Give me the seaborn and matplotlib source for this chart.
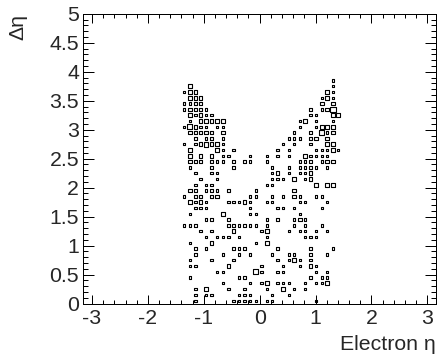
import numpy as np
import pandas as pd
import matplotlib
matplotlib.use("Agg")
import matplotlib.pyplot as plt
import seaborn as sns
from matplotlib.ticker import MultipleLocator, FuncFormatter

# ---- data: 2D histogram (electron eta vs delta eta), bin centres + contents ----
eta_centers = [-1.35, -1.25, -1.15, -1.06, -0.96, -0.86, -0.76, -0.66, -0.56, -0.47,
               -0.37, -0.27, -0.17, -0.07, 0.03, 0.13, 0.22, 0.32, 0.42, 0.52,
               0.62, 0.72, 0.81, 0.91, 1.01, 1.11, 1.21, 1.31, 1.40]
deta_centers = [3.85, 3.75, 3.65, 3.55, 3.45, 3.35, 3.25, 3.15, 3.05, 2.95,
                2.85, 2.75, 2.65, 2.55, 2.45, 2.35, 2.25, 2.15, 2.05, 1.95,
                1.85, 1.75, 1.65, 1.55, 1.45, 1.35, 1.25, 1.15, 1.05, 0.95,
                0.85, 0.75, 0.65, 0.55, 0.45, 0.35, 0.25, 0.15, 0.05]
# bin contents, one string per delta-eta row (top to bottom), one char per eta column
bin_contents = [
    "..... ..... ..... ..... ..... ..1.",
    ".2... ..... ..... ..... ..... ..1.",
    "122.. ..... ..... ..... ..... .21.",
    ".222. ..... ..... ..... ..... 121.",
    "1122. ..... ..... ..... ..... 2.2.",
    "12221 ..... ..... ..... ...2. 124.",
    ".2121 1.... ..... ..... ...11 ..22",
    ".1.22 222.. ..... ..... .12.1 ..1.",
    "13211 .11.. ..... ..... .1..1 222.",
    ".2222 1.2.. ..... ..... 1..1. 312.",
    "..1.1 2.1.. ..... ....1 11.22 .2..",
    "1.123 221.. ..... ...1. 1..1. .22.",
    ".2... .21.1 ..... ..1.1 ....1 1121",
    ".2.2. 2.11. ..1.. 1.1.1 ..211 11..",
    ".211. 111.1 .11.. 1.... .111. 122.",
    ".1... 1...1 ..... .1..1 .1111 .1..",
    "..1.. 11... ..... .12.1 .112. ....",
    "...1. .1... ..... .111. 2.12. ....",
    "..1.1 1.... ..... 11... ....2 .22.",
    ".21.1 11.2. ...1. ..... 2.... ....",
    "1.11. 12... ..11. .1.1. 21..1 1...",
    ".2121 ...11 121.. 11... .11.. .1..",
    "..111 ..... ..1.. ..11. 1.... 1...",
    ".1... ..2.. ..11. ..... .1... ....",
    "....1 2..1. ..... 1.1.. 121.. ....",
    "111.. ...11 1111. 1.... 1.1.. 1...",
    "...1. 1...2 ....1 2...1 .11.1 .1..",
    "....1 .111. 1.... 1.... ..111 ....",
    ".1... 2.... ...1. 2.... ..... ....",
    "..1.1 ....1 11... ..1.. ...2. ..1.",
    "..1.. ..1.. 1.1.. .1..1 1..2. .1..",
    ".1... 1...1 ..... ..1.1 21.1. ....",
    ".11.. ...2. ....1 ...1. .1.21 ....",
    "..... .11.. ...31 ..11. ....1 .1..",
    ".1... ..... 12... ..... ...2. 11..",
    "..... ..1.. ..1.1 2.111 ..1.1 12..",
    "..1.3 ...1. .1... 1..3. 1.1.. ....",
    "..1.1 1.... 111.. .1..1 ..... ....",
    "..1.. ....1 1111. 11... ....1 ....",
]
x_ticks = [-3, -2, -1, 0, 1, 2, 3]
y_ticks = [0, 0.5, 1, 1.5, 2, 2.5, 3, 3.5, 4, 4.5, 5]
x_title = "Electron η"
y_title = "Δη"

# ---- build long table ----
recs = []
for dv, row in zip(deta_centers, bin_contents):
    row = row.replace(" ", "")
    for ev, ch in zip(eta_centers, row):
        if ch != ".":
            recs.append((ev, dv, int(ch)))
df = pd.DataFrame(recs, columns=["eta", "deta", "count"])

# ---- style ----
sns.set_style("ticks")
plt.rcParams["font.family"] = ["Liberation Sans", "DejaVu Sans"]
FS = 15.3
plt.rcParams["font.size"] = FS

fig = plt.figure(figsize=(4.39, 3.62), dpi=100)
ax = fig.add_axes([83.3 / 439, (362 - 303.6) / 362, 352.7 / 439, 289.8 / 362])

size_map = {1: 2.9, 2: 6.9, 3: 11.6, 4: 16.8}
sns.scatterplot(data=df, x="eta", y="deta", size="count", sizes=size_map,
                marker="s", facecolor="none", edgecolor="black", linewidth=0.8,
                legend=False, ax=ax)

ax.set_xlim(-3.155, 3.155)
ax.set_ylim(0, 5)
ax.set_xticks(x_ticks)
ax.set_yticks(y_ticks)
ax.xaxis.set_minor_locator(MultipleLocator(0.2))
ax.yaxis.set_minor_locator(MultipleLocator(0.1))
fmt = FuncFormatter(lambda v, p: f"{v:g}")
ax.xaxis.set_major_formatter(fmt)
ax.yaxis.set_major_formatter(fmt)

ax.tick_params(axis="both", which="both", direction="in", top=True, right=True,
               width=0.72, color="black", labelsize=FS)
ax.tick_params(axis="x", which="major", length=6.3, pad=4.0)
ax.tick_params(axis="x", which="minor", length=3.1)
ax.tick_params(axis="y", which="major", length=7.6, pad=3)
ax.tick_params(axis="y", which="minor", length=3.8)
for sp in ax.spines.values():
    sp.set_linewidth(0.72)
    sp.set_color("black")

ax.set_xlabel(x_title, fontsize=FS, loc="right")
ax.xaxis.set_label_coords(1.0, (303.6 - 345) / 289.8)
ax.xaxis.label.set_va("center")
ax.set_ylabel(y_title, fontsize=FS, loc="top")
ax.yaxis.set_label_coords((18 - 83.3) / 352.7, 1.0)
ax.yaxis.label.set_va("center")

fig.savefig("out.png", dpi=100)
